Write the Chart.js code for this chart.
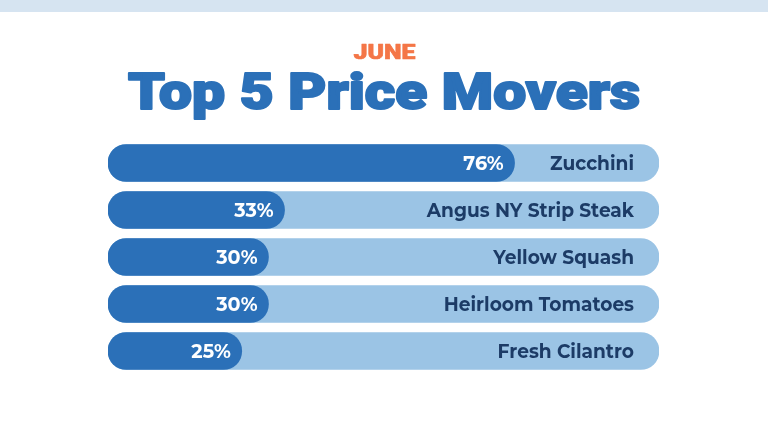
<!DOCTYPE html>
<html>
<head>
<meta charset="utf-8">
<script src="https://cdn.jsdelivr.net/npm/chart.js@4"></script>
<style>
  html, body { margin: 0; padding: 0; background: #ffffff; }
  #wrap { position: relative; width: 768px; height: 447px; overflow: hidden; }
  #band { position: absolute; left: 0; top: 0; width: 768px; height: 12px; background: #d6e4f1; }
  #chart { position: absolute; left: 0; top: 0; }
</style>
</head>
<body>
<div id="wrap">
  <div id="band"></div>
  <canvas id="chart" width="768" height="447"></canvas>
</div>
<script>
// chart data
const items = ['Zucchini', 'Angus NY Strip Steak', 'Yellow Squash', 'Heirloom Tomatoes', 'Fresh Cilantro'];
const changes = [76, 33, 30, 30, 25];
const trackMax = 103; // light track runs to the axis maximum
const monthLabel = 'JUNE';
const headline = 'Top 5 Price Movers';

const darkBlue = '#2b70b8';
const lightBlue = '#9bc4e5';
const navy = '#1c3b66';
const orange = '#f47647';

// draw text centred on x, stretched to a target width
function fitText(ctx, text, x, y, width, weight) {
    const w = ctx.measureText(text).width;
    ctx.save();
    ctx.translate(x, y);
    ctx.scale(width / w, 1);
    ctx.fillText(text, 0, 0);
    if (weight) {
        ctx.lineWidth = weight;
        ctx.lineJoin = 'round';
        ctx.strokeText(text, 0, 0);
    }
    ctx.restore();
}

// header text drawn on the canvas
const headerPlugin = {
    id: 'header',
    afterDraw(chart) {
        const ctx = chart.ctx;
        ctx.save();
        ctx.textAlign = 'center';
        ctx.textBaseline = 'alphabetic';
        ctx.fillStyle = orange;
        ctx.strokeStyle = orange;
        ctx.font = '900 21px "Roboto"';
        fitText(ctx, monthLabel, 384.5, 59, 62, 0.6);
        ctx.fillStyle = darkBlue;
        ctx.strokeStyle = darkBlue;
        ctx.font = '900 50px "Roboto"';
        fitText(ctx, headline, 384, 108.5, 512, 2);
        ctx.restore();
    }
};

// percent labels and item names on each bar
const labelPlugin = {
    id: 'barLabels',
    afterDatasetsDraw(chart) {
        const ctx = chart.ctx;
        const meta = chart.getDatasetMeta(0);
        const xScale = chart.scales.x;
        ctx.save();
        ctx.textBaseline = 'middle';
        ctx.textAlign = 'right';
        ctx.font = 'bold 20px "Montserrat", "Lato", sans-serif';
        meta.data.forEach(function (bar, i) {
            ctx.fillStyle = '#ffffff';
            ctx.save();
            ctx.translate(bar.x - 11, bar.y + 1);
            ctx.scale(0.96, 1);
            ctx.fillText(changes[i] + '%', 0, 0);
            ctx.restore();
            ctx.fillStyle = navy;
            ctx.save();
            ctx.translate(xScale.getPixelForValue(trackMax) - 25, bar.y + 1);
            ctx.scale(0.93, 1);
            ctx.fillText(items[i], 0, 0);
            ctx.restore();
        });
        ctx.restore();
    }
};

const ctx = document.getElementById('chart').getContext('2d');
new Chart(ctx, {
    type: 'bar',
    data: {
        labels: items,
        datasets: [
            {
                label: 'Change',
                data: changes,
                backgroundColor: darkBlue,
                borderRadius: 19,
                borderSkipped: false,
                barThickness: 37,
                grouped: false,
                order: 0
            },
            {
                label: 'Track',
                data: items.map(() => trackMax),
                backgroundColor: lightBlue,
                borderRadius: 19,
                borderSkipped: false,
                barThickness: 37,
                grouped: false,
                order: 1
            }
        ]
    },
    options: {
        indexAxis: 'y',
        responsive: false,
        animation: false,
        layout: { padding: { left: 108, right: 109, top: 139.5, bottom: 72.5 } },
        scales: {
            x: { display: false, min: 0, max: trackMax },
            y: { display: false }
        },
        plugins: {
            legend: { display: false },
            tooltip: { enabled: false }
        }
    },
    plugins: [headerPlugin, labelPlugin]
});
</script>
</body>
</html>
